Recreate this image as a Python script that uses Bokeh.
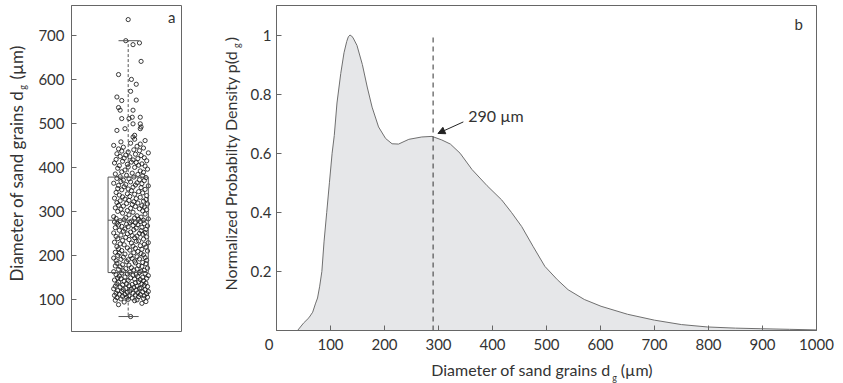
import math
from bokeh.plotting import figure
from bokeh.layouts import row, column
from bokeh.models import Range1d, FixedTicker, Label, Arrow, NormalHead, ColumnDataSource
from bokeh.embed import file_html
from bokeh.resources import INLINE

# ---------------- data ----------------
# panel a: individual grain diameters (um)
grain_d = [61, 88, 91, 94, 95, 97, 98, 99,
           100, 101, 102, 103, 104, 105, 105, 106, 107, 108, 108, 109, 110, 111, 111, 112, 113, 114, 114, 115,
           116, 117, 118, 118, 119, 120, 121, 122, 122, 123, 124, 125, 125, 126, 127, 128, 129, 130, 130, 131,
           132, 133, 134, 135, 135, 136, 137, 138, 139, 140, 141, 142, 143, 144, 145, 146, 147, 148, 149, 149,
           150, 151, 152, 153, 154, 155, 156, 157, 158, 159, 160, 161, 162, 163, 164, 165, 166, 167, 168, 169,
           170, 171, 172, 174, 175, 176, 177, 178, 179, 181, 182, 183, 184, 186, 187, 188, 189, 190, 191, 192,
           193, 194, 195, 196, 197, 199,
           200, 201, 203, 204, 205, 206, 207, 209, 210, 211, 212, 214, 215, 216, 217, 219, 220, 221, 222, 224,
           225, 226, 228, 229, 230, 232, 233, 234, 236, 237, 238, 240, 241, 242, 243, 244, 245, 246, 248, 249,
           250, 251, 252, 253, 255, 256, 257, 258, 259, 260, 262, 263, 264, 265, 266, 267, 268, 269, 270, 271,
           272, 273, 274, 275, 276, 277, 278, 279, 280, 281, 282, 283, 284, 285, 286, 287, 288, 290, 292, 294,
           296, 298,
           300, 301, 302, 304, 305, 306, 307, 308, 310, 311, 312, 313, 314, 316, 317, 318, 319, 320, 322, 323,
           324, 325, 327, 328, 329, 330, 332, 333, 334, 336, 337, 339, 340, 342, 343, 345, 347, 349,
           350, 351, 352, 354, 355, 356, 358, 359, 360, 361, 363, 364, 365, 367, 368, 370, 371, 372, 374, 375,
           377, 378, 379, 381, 382, 384, 385, 387, 389, 390, 392, 394, 396, 398,
           400, 401, 403, 404, 405, 407, 408, 410, 411, 412, 414, 415, 417, 418, 420, 421, 422, 424, 425, 427,
           428, 430, 431, 433, 435, 437, 438, 440, 442, 444, 446, 448, 450, 453, 455, 458, 461, 464,
           469, 473, 484, 488, 488, 492, 499, 499, 511, 511, 514, 514, 530, 530, 536, 552, 553, 560, 573, 589,
           600, 611, 641, 679, 683, 688, 736]
# horizontal jitter of each point (hundredths of a box unit)
jitter = [3, -12, 17, -5, 22, 8, -16, 11, 0, -9, 19, 5, -14, 24, -2, 13, -7, 20, 1, -17,
          9, -4, 15, -11, 23, 6, -15, 12, -1, 18, -8, 25, 2, -13, 10, -6, 21, 4, -18, 14,
          -3, 16, 7, -10, 24, -16, 11, 1, 20, -7, 5, -14, 17, -2, 22, 9, -12, 13, -5, 19,
          0, -17, 15, 8, -9, 23, 3, -13, 18, -4, 12, -11, 25, 6, -15, 10, -1, 21, -8, 14,
          2, -18, 16, -6, 20, 7, -12, 11, -3, 24, 4, -10, 17, -16, 13, 1, -7, 22, -14, 9,
          18, -2, 8, -15, 23, 0, -9, 14, 5, -18, 21, -6, 11, 3, -13, 19, -4, 16, -11, 7,
          -16, 12, 24, -8, 2, 17, -12, 9, -1, 22, -14, 6, 15, -5, 20, -10, 4, 25, -17, 10,
          13, -7, 1, 19, -13, 8, -3, 23, -15, 11, 5, -9, 18, -1, 14, -18, 21, 3, -6, 16,
          -11, 7, 22, -4, 10, -16, 17, 0, -8, 24, 6, -12, 12, -2, 20, -14, 9, 2, -17, 15,
          4, -10, 19, -5, 13, 25, -15, 8, -3, 16, -18, 11, 1, 21, -7, 6, -13, 18, -1, 23,
          -9, 14, 3, -16, 20, 9, -6, 17, -12, 5, 24, -2, 12, -14, 7, 19, -10, 1, 22, -4,
          10, -17, 15, -7, 2, 23, -11, 8, -1, 18, -15, 13, 4, -8, 21, 0, -13, 16, 6, -5,
          25, -12, 9, -3, 17, -18, 11, 3, -9, 20, -6, 14, 1, -14, 22, 7, -10, 18, -2, 12,
          -16, 5, 19, -8, 15, -4, 24, -13, 8, 0, 21, -11, 13, -1, 17, -17, 10, 4, -7, 23,
          6, -15, 12, -5, 20, 2, -10, 16, -3, 9, -14, 25, 0, -8, 14, 7, -12, 19, -6, 11,
          -18, 15, 3, -9, 21, 8,
          6, 8, -14, 15, -4, 16, 15, 6, -8, 1, 15, 5, -10, 6, -12, -8, 10, -14, 3, 10,
          4, -12, 16, 6, 14, -3, 0]
# box-plot statistics
box_q1, box_median, box_q3 = 161, 280, 378
whisker_low, whisker_high = 61, 688
a_ticks = [100, 200, 300, 400, 500, 600, 700]

# panel b: normalized probability density curve
dens_x = [39, 50, 60, 67, 72, 76, 80, 84, 88, 93, 98, 103, 107, 112, 119, 125, 130, 133, 136, 139, 142,
          149, 159, 168, 177, 189, 202, 214, 226, 245, 269, 288, 306, 322, 340, 362, 390, 417, 435, 454,
          475, 497, 520, 540, 570, 601, 650, 700, 750, 798, 850, 897, 950, 1000]
dens_y = [0, 0.025, 0.043, 0.062, 0.09, 0.11, 0.15, 0.2, 0.3, 0.4, 0.5, 0.6, 0.66, 0.77, 0.87, 0.94,
          0.978, 0.994, 1.0, 0.997, 0.99, 0.965, 0.9, 0.824, 0.756, 0.689, 0.65, 0.632, 0.631, 0.647,
          0.655, 0.657, 0.645, 0.631, 0.6, 0.545, 0.49, 0.442, 0.40, 0.352, 0.285, 0.217, 0.172, 0.138,
          0.105, 0.082, 0.055, 0.035, 0.02, 0.012, 0.008, 0.006, 0.004, 0.002]
mode_marker = 290
b_xticks = [0, 100, 200, 300, 400, 500, 600, 700, 800, 900, 1000]
b_yticks = [0.2, 0.4, 0.6, 0.8, 1.0]

FONT = "Lato"
TXT = "#333333"
AX = "#666666"


def style_axis(ax, ticks):
    ax.ticker = FixedTicker(ticks=ticks)
    ax.minor_tick_line_color = None
    ax.major_tick_in = 5
    ax.major_tick_out = 0
    ax.axis_line_color = AX
    ax.major_tick_line_color = AX
    ax.major_label_text_font = FONT
    ax.major_label_text_font_size = "15px"
    ax.major_label_text_color = TXT


def label_strip(w, h):
    # blank strip whose frame is the whole strip: its range is in pixels
    f = figure(width=w, height=h, x_range=Range1d(0, w), y_range=Range1d(0, h),
               output_backend="svg", toolbar_location=None, x_axis_location=None, y_axis_location=None,
               min_border_left=0, min_border_right=0, min_border_top=0, min_border_bottom=0)
    f.grid.visible = False
    f.outline_line_color = None
    return f


def add_text(f, x, y, text, size, align="left", baseline="middle", angle=0.0):
    f.add_layout(Label(x=x, y=y, text=text, angle=angle, text_font=FONT, text_font_size=size,
                       text_color=TXT, text_align=align, text_baseline=baseline))


# ---------------- panel a ----------------
p1 = figure(width=148, height=383, x_range=Range1d(0.296, 1.662), y_range=Range1d(27, 768),
            output_backend="svg", toolbar_location=None, x_axis_location=None,
            min_border_left=34, min_border_right=2, min_border_top=5, min_border_bottom=52)
p1.grid.visible = False
p1.outline_line_color = AX
style_axis(p1.yaxis[0], a_ticks)
p1.yaxis.major_label_standoff = 7

n = min(len(grain_d), len(jitter))
src = ColumnDataSource(dict(x=[1 + j / 100 for j in jitter[:n]], y=grain_d[:n]))
p1.scatter("x", "y", source=src, size=4.2, fill_color=None, line_color="#1a1a1a", line_width=0.85)

p1.quad(left=[0.75], right=[1.25], bottom=[box_q1], top=[box_q3], fill_color=None,
        line_color="#555555", line_width=1)
p1.segment(x0=[0.75], x1=[1.25], y0=[box_median], y1=[box_median], line_color="#555555", line_width=1)
p1.segment(x0=[1, 1], x1=[1, 1], y0=[box_q3, box_q1], y1=[whisker_high, whisker_low],
           line_color="#555555", line_width=1, line_dash="3 2")
p1.segment(x0=[0.88, 0.88], x1=[1.13, 1.13], y0=[whisker_high, whisker_low], y1=[whisker_high, whisker_low],
           line_color="#555555", line_width=1)
add_text(p1, 1.54, 741, "a", "15px", align="center")

# y-axis title of panel a (strip 0..35 px)
labA = label_strip(35, 383)
add_text(labA, 15.6, 283, "Diameter of sand grains d", "17px", align="right", angle=math.pi / 2)
add_text(labA, 21.5, 284, "g", "9px", angle=math.pi / 2)
add_text(labA, 15.6, 296, "(µm)", "17px", angle=math.pi / 2)

# y-axis title of panel b (strip 183..247 px)
labB = label_strip(64, 383)
add_text(labB, 47.2, 330, "Normalized Probabilty Density p(d", "16px", align="right", angle=math.pi / 2)
add_text(labB, 52.8, 333, "g", "9px", angle=math.pi / 2)
add_text(labB, 47.2, 341, ")", "16px", angle=math.pi / 2)

# ---------------- panel b ----------------
p2 = figure(width=596, height=355, x_range=Range1d(0, 1000), y_range=Range1d(0, 1.1),
            output_backend="svg", toolbar_location=None,
            min_border_left=27, min_border_right=27, min_border_top=5, min_border_bottom=24)
p2.grid.visible = False
p2.outline_line_color = AX
style_axis(p2.xaxis[0], b_xticks)
style_axis(p2.yaxis[0], b_yticks)
p2.xaxis.major_label_standoff = 4
p2.yaxis.major_label_standoff = 5
p2.xaxis.major_label_overrides = {0: "0\u2002\u2002"}
p2.yaxis.major_label_overrides = {1: "1"}

p2.varea(x=dens_x, y1=[0] * len(dens_x), y2=dens_y, fill_color="#e6e7e9")
p2.line(dens_x, dens_y, line_color="#6f6f6f", line_width=1)
p2.segment(x0=[mode_marker], x1=[mode_marker], y0=[0], y1=[1.005], line_color="#333333",
           line_width=1, line_dash="5 4")

p2.add_layout(Arrow(x_start=346, y_start=0.706, x_end=299, y_end=0.667, line_color="#222222", line_width=1,
                    end=NormalHead(size=7, fill_color="#222222", line_color="#222222")))
add_text(p2, 355, 0.727, "%d µm" % mode_marker, "16px")
add_text(p2, 967, 1.039, "b", "15px", align="center")

# x-axis title of panel b (strip 247..843 x 355..383 px)
labX = label_strip(596, 28)
add_text(labX, 369, 14.5, "Diameter of sand grains d", "16px", align="right")
add_text(labX, 370.5, 5.7, "g", "9px")
add_text(labX, 380, 14.5, "(µm)", "16px")

layout = row(labA, p1, labB, column(p2, labX))
open("out.html", "w").write(file_html(layout, INLINE))
